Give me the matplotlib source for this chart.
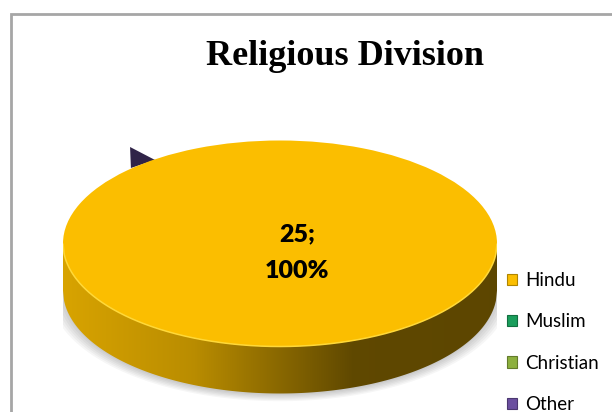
import numpy as np
import matplotlib
matplotlib.use("Agg")
import matplotlib.pyplot as plt
from matplotlib.patches import Polygon, Patch, Rectangle
from matplotlib.colors import LinearSegmentedColormap, to_rgb

# ---- data ----
categories = ["Hindu", "Muslim", "Christian", "Other"]
values = [25, 0, 0, 0]
colors = ["#FBBE00", "#1A9E5C", "#8DB03E", "#6B4FA0"]
title = "Religious Division"

W, H = 612, 412
fig = plt.figure(figsize=(W / 100, H / 100), dpi=100)
fig.patch.set_facecolor("white")

# chart frame (extends beyond the image on right / bottom)
fig.add_artist(Rectangle((11 / W, -0.05), 1.2, (H - 14) / H + 0.05, transform=fig.transFigure,
                         fill=False, edgecolor="#A6A6A6", linewidth=2.0))

# pie axes: x in [-1,1] spans pixels 63..497, y=1 at pixel 140.5, 103 px per unit
px_l, px_r, px_top, px_bot = 63, 497, 140.5, 405
unit_y = 103.0
ylo = 1 - (px_bot - px_top) / unit_y
ax = fig.add_axes([px_l / W, (H - px_bot) / H, (px_r - px_l) / W, (px_bot - px_top) / H])
ax.set_axis_off()

t = 47 / unit_y  # thickness of pie side

wedges, _ = ax.pie(values, colors=colors, startangle=90, counterclock=False, radius=1,
                   center=(0, 0), wedgeprops=dict(linewidth=0, zorder=5))
ax.set_aspect("auto")
ax.set_xlim(-1, 1)
ax.set_ylim(ylo, 1)

# soft shadow under the pie
xs = np.linspace(-1, 1, 400)
for k in range(6):
    s = 1.0 + 0.012 * k
    ax.add_patch(Polygon(np.column_stack([np.concatenate([xs * s, xs[::-1] * s]),
                                          np.concatenate([-np.sqrt(1 - xs ** 2) * s - t - 0.015,
                                                          np.zeros_like(xs) - t])]),
                         closed=True, facecolor="black", alpha=0.035, edgecolor="none", zorder=1))

# side of the (single, full) slice with horizontal gradient
base = np.array(to_rgb(colors[0]))
side_cmap = LinearSegmentedColormap.from_list(
    "side", [(0.0, base * 0.86), (0.3, base * 0.74), (0.67, base * 0.38), (1.0, base * 0.37)])
top_curve = -np.sqrt(np.clip(1 - xs ** 2, 0, None))
side_poly = np.column_stack([np.concatenate([xs, xs[::-1]]),
                             np.concatenate([top_curve, (top_curve - t)[::-1]])])
clip = Polygon(side_poly, closed=True, facecolor="none", edgecolor="none")
ax.add_patch(clip)
grad = np.linspace(0, 1, 256).reshape(1, -1)
im = ax.imshow(grad, cmap=side_cmap, extent=(-1, 1, -1 - t, 0.0), aspect="auto",
               interpolation="bilinear", zorder=3)
im.set_clip_path(clip)
ax.set_xlim(-1, 1)
ax.set_ylim(ylo, 1)

# light rim on the front edge of the top face
ax.plot(xs, top_curve, color="#FFD838", linewidth=1.1, zorder=6, solid_capstyle="butt")

# small sliver of the "Other" slice peeking out behind the top face
other_dark = np.array(to_rgb(colors[3])) * 0.45
ax.add_patch(Polygon([(-0.691, 0.937), (-0.687, 0.733), (-0.576, 0.811)], closed=True,
                     facecolor=other_dark, edgecolor="none", zorder=2))

# data label
total = sum(values)
ax.text(0.08, -0.09, f"{values[0]};\n{values[0] / total * 100:.0f}%", ha="center", va="center",
        fontsize=18, fontweight="heavy", family="Lato", linespacing=1.85, zorder=8, color="black")

# title
fig.text(345 / W, 1 - 65 / H, title, ha="center", va="baseline", fontsize=26,
         fontweight="bold", family="Liberation Serif")

# legend
handles = [Patch(facecolor=c, edgecolor=tuple(np.array(to_rgb(c)) * 0.7), linewidth=0.8) for c in colors]
leg = fig.legend(handles, categories, loc="upper left", bbox_to_anchor=(507 / W, 1 - 272 / H),
                 frameon=False, prop=dict(family="Lato", size=13.5), handlelength=0.55,
                 handleheight=0.55, handletextpad=0.4, labelspacing=1.3, borderpad=0,
                 borderaxespad=0)

fig.savefig("out.png", dpi=100, facecolor="white")
